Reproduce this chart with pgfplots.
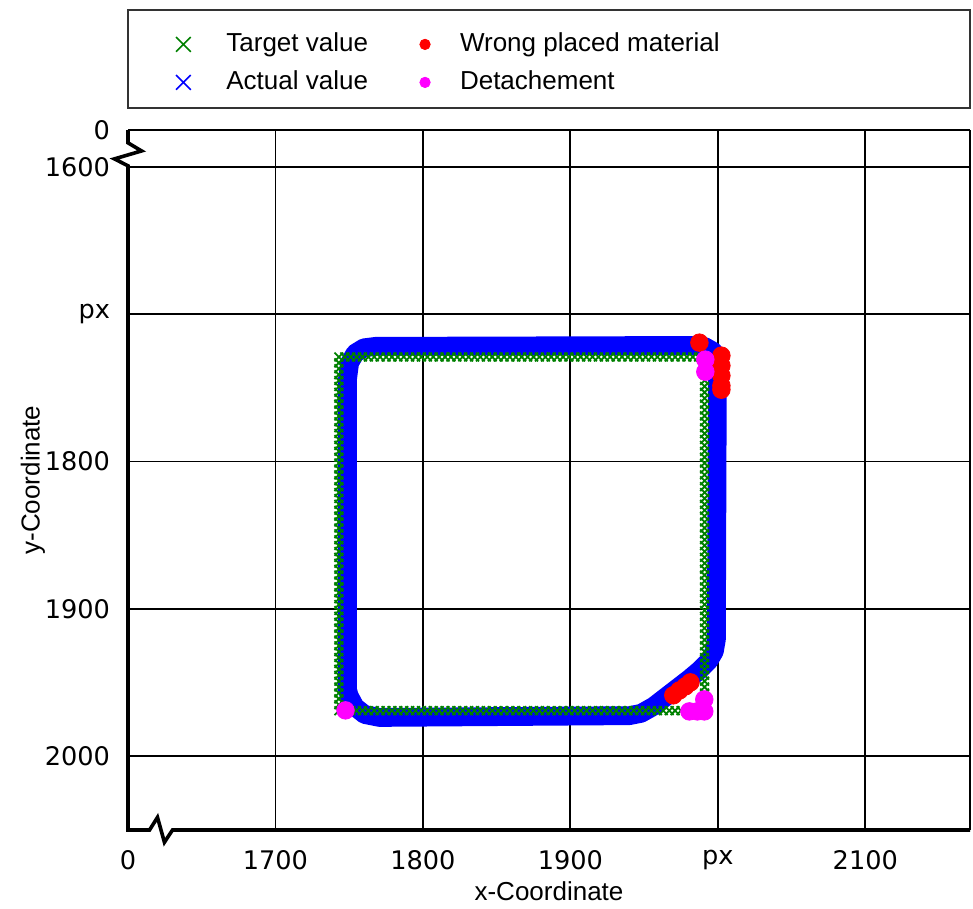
\documentclass[border=0pt]{standalone}
\usepackage{pgfplots}
\pgfplotsset{compat=1.18}
\usepackage{fontspec}
\setmainfont{Liberation Sans}
\newfontfamily\dejavu{DejaVu Sans}
\definecolor{tgreen}{RGB}{0,128,0}
\definecolor{tblue}{RGB}{0,0,255}
\definecolor{tred}{RGB}{255,0,0}
\definecolor{tmag}{RGB}{255,0,255}
\begin{document}
\begin{tikzpicture}
\begin{axis}[
  scale only axis, width=421pt, height=350pt,
  xmin=1600, xmax=2171, ymin=1575, ymax=2050, y dir=reverse,
  clip=false,
  axis line style={draw=none},
  xtick={1700,1800,1900,2000,2100},
  xticklabels={1700,1800,1900,px,2100},
  ytick={1600,1700,1800,1900,2000},
  yticklabels={1600,px,1800,1900,2000},
  extra x ticks={1600}, extra x tick labels={0},
  extra y ticks={1575}, extra y tick labels={0},
  extra tick style={grid=none},
  major tick length=0pt, tick style={draw=none},
  grid=major, major grid style={black, line width=0.9pt},
  /pgf/number format/assume math mode=true,
  ticklabel style={font=\dejavu\fontsize{12.8}{15}\selectfont},
  xticklabel style={yshift=-6.5pt},
  yticklabel style={xshift=-5.5pt},
  xlabel={x-Coordinate}, ylabel={y-Coordinate},
  label style={font=\fontsize{13}{15}\selectfont},
  xlabel style={at={(axis description cs:0.5,-0.0871)}, anchor=center},
  ylabel style={at={(axis description cs:-0.1128,0.5)}, anchor=center},
  legA/.style={legend image code/.code={\path[draw=none,fill=none] (-6pt,-6pt) rectangle (21.5pt,6pt); \draw[##1] plot coordinates {(0pt,0pt)};}},
  legB/.style={legend image code/.code={\path[draw=none,fill=none] (-6pt,-6pt) rectangle (17.5pt,6pt); \draw[##1] plot coordinates {(0pt,0pt)};}},
  legend columns=2,
  legend cell align=left,
  legend style={draw=none, fill=none, inner sep=0pt,
    at={(axis description cs:0,1)}, anchor=north west, xshift=21.5pt, yshift=49.1pt,
    font=\fontsize{13}{15}\selectfont, row sep=6.8pt,
    nodes={inner sep=0pt, text height=9.5pt, text depth=2.7pt},
    /tikz/column 2/.style={column sep=22.5pt}},
]
% legend entries
\addlegendimage{only marks, mark=x, tgreen, mark size=5.2pt, line width=0.8pt, legA}
\addlegendentry{Target value}
\addlegendimage{only marks, mark=*, tred, mark size=2.6pt, legB}
\addlegendentry{Wrong placed material}
\addlegendimage{only marks, mark=x, tblue, mark size=5.2pt, line width=0.8pt, legA}
\addlegendentry{Actual value}
\addlegendimage{only marks, mark=*, tmag, mark size=2.6pt, legB}
\addlegendentry{Detachement}

% target value (green x marks)
\addplot[only marks, mark=x, tgreen, mark size=3.1pt, line width=0.9pt, forget plot] coordinates {
(1743,1729)(1747,1729)(1751,1729)(1755,1729)(1759,1729)(1763,1729)(1767,1729)(1771,1729)(1775,1729)(1779,1729)
(1783,1729)(1787,1729)(1791,1729)(1795,1729)(1799,1729)(1803,1729)(1807,1729)(1811,1729)(1815,1729)(1819,1729)
(1823,1729)(1827,1729)(1831,1729)(1835,1729)(1839,1729)(1843,1729)(1847,1729)(1851,1729)(1855,1729)(1859,1729)
(1863,1729)(1867,1729)(1871,1729)(1875,1729)(1879,1729)(1883,1729)(1887,1729)(1891,1729)(1895,1729)(1899,1729)
(1903,1729)(1907,1729)(1911,1729)(1915,1729)(1919,1729)(1923,1729)(1927,1729)(1931,1729)(1935,1729)(1939,1729)
(1943,1729)(1947,1729)(1951,1729)(1955,1729)(1959,1729)(1963,1729)(1967,1729)(1971,1729)(1975,1729)(1979,1729)
(1983,1729)(1987,1729)(1991,1729)
};
\addplot[only marks, mark=x, tgreen, mark size=3.1pt, line width=0.9pt, forget plot] coordinates {
(1991,1733)(1991,1737)(1991,1741)(1991,1745)(1991,1749)(1991,1753)(1991,1757)(1991,1761)(1991,1765)(1991,1769)
(1991,1773)(1991,1777)(1991,1781)(1991,1785)(1991,1789)(1991,1793)(1991,1797)(1991,1801)(1991,1805)(1991,1809)
(1991,1813)(1991,1817)(1991,1821)(1991,1825)(1991,1829)(1991,1833)(1991,1837)(1991,1841)(1991,1845)(1991,1849)
(1991,1853)(1991,1857)(1991,1861)(1991,1865)(1991,1869)(1991,1873)(1991,1877)(1991,1881)(1991,1885)(1991,1889)
(1991,1893)(1991,1897)(1991,1901)(1991,1905)(1991,1909)(1991,1913)(1991,1917)(1991,1921)(1991,1925)(1991,1929)
(1991,1933)(1991,1937)(1991,1941)(1991,1945)(1991,1949)(1991,1953)(1991,1957)(1991,1961)(1991,1965)(1991,1969)
};
\addplot[only marks, mark=x, tgreen, mark size=3.1pt, line width=0.9pt, forget plot] coordinates {
(1987,1969)(1983,1969)(1979,1969)(1975,1969)(1971,1969)(1967,1969)(1963,1969)(1959,1969)(1955,1969)(1951,1969)
(1947,1969)(1943,1969)(1939,1969)(1935,1969)(1931,1969)(1927,1969)(1923,1969)(1919,1969)(1915,1969)(1911,1969)
(1907,1969)(1903,1969)(1899,1969)(1895,1969)(1891,1969)(1887,1969)(1883,1969)(1879,1969)(1875,1969)(1871,1969)
(1867,1969)(1863,1969)(1859,1969)(1855,1969)(1851,1969)(1847,1969)(1843,1969)(1839,1969)(1835,1969)(1831,1969)
(1827,1969)(1823,1969)(1819,1969)(1815,1969)(1811,1969)(1807,1969)(1803,1969)(1799,1969)(1795,1969)(1791,1969)
(1787,1969)(1783,1969)(1779,1969)(1775,1969)(1771,1969)(1767,1969)(1763,1969)(1759,1969)(1755,1969)(1751,1969)
(1747,1969)(1743,1969)
};
\addplot[only marks, mark=x, tgreen, mark size=3.1pt, line width=0.9pt, forget plot] coordinates {
(1743,1965)(1743,1961)(1743,1957)(1743,1953)(1743,1949)(1743,1945)(1743,1941)(1743,1937)(1743,1933)(1743,1929)
(1743,1925)(1743,1921)(1743,1917)(1743,1913)(1743,1909)(1743,1905)(1743,1901)(1743,1897)(1743,1893)(1743,1889)
(1743,1885)(1743,1881)(1743,1877)(1743,1873)(1743,1869)(1743,1865)(1743,1861)(1743,1857)(1743,1853)(1743,1849)
(1743,1845)(1743,1841)(1743,1837)(1743,1833)(1743,1829)(1743,1825)(1743,1821)(1743,1817)(1743,1813)(1743,1809)
(1743,1805)(1743,1801)(1743,1797)(1743,1793)(1743,1789)(1743,1785)(1743,1781)(1743,1777)(1743,1773)(1743,1769)
(1743,1765)(1743,1761)(1743,1757)(1743,1753)(1743,1749)(1743,1745)(1743,1741)(1743,1737)(1743,1733)
};

% actual value (thick blue band)
\addplot[tblue, line width=9.4pt, line join=round, line cap=round, forget plot] coordinates {
(1748.8,1954.6)(1748.8,1744.4)(1750.3,1733.0)(1754.0,1726.5)(1760.0,1722.8)(1768.0,1721.8)
(1980.7,1721.2)(1990.8,1721.8)(1996.9,1725.2)(1999.7,1732.2)(1999.0,1920.7)
(1997.6,1928.8)(1994.0,1935.0)(1987.0,1942.0)(1980.7,1947.3)(1967.1,1957.8)(1956.5,1966.0)
(1948.0,1970.8)(1940.0,1972.4)(1770.5,1973.6)(1760.5,1971.6)(1754.0,1966.5)(1750.0,1959.0)(1748.8,1954.6)
} -- cycle;

% wrong placed material
\addplot[only marks, mark=*, mark size=4.4pt, mark options={draw=tred, fill=tred}, forget plot] coordinates {
(1987.5,1719.3)
(2002.4,1728.1)(2002.4,1734.9)(2002.4,1741.7)(2002.4,1748.5)(2002.4,1751.2)
(1969.8,1958.6)(1973.9,1955.3)(1978.0,1952.5)(1981.4,1949.8)
};
% detachement
\addplot[only marks, mark=*, mark size=4.4pt, mark options={draw=tmag, fill=tmag}, forget plot] coordinates {
(1991.5,1730.8)(1991.5,1739.0)
(1747.5,1968.8)
(1980.7,1969.5)(1986.1,1969.5)(1990.8,1969.5)(1990.8,1961.4)
};

% axis frame with break marks
\draw[line width=1pt] (axis cs:1600,1575) -- (axis cs:2171,1575);
\draw[line width=0.7pt] (axis cs:2171,1575) -- (axis cs:2171,2050);
\draw[line width=1.8pt, line join=miter] (axis cs:1600,1575) -- (axis cs:1600,1583.7) -- (axis cs:1609.2,1589.2) -- (axis cs:1590.8,1594.6) -- (axis cs:1600,1599.3) -- (axis cs:1600,2050) -- (axis cs:1614.6,2050) -- (axis cs:1620,2041.4) -- (axis cs:1624.7,2058.3) -- (axis cs:1630.2,2050) -- (axis cs:2171,2050);
% legend frame
\draw[line width=0.7pt, black!80] (axis description cs:0,1.0314) rectangle (axis description cs:1,1.1714);
% overall picture extent
\path (axis description cs:0,0) ++(-64pt,-39pt);
\path (axis description cs:1,1) ++(1.5pt,65pt);
\end{axis}
\end{tikzpicture}
\end{document}
